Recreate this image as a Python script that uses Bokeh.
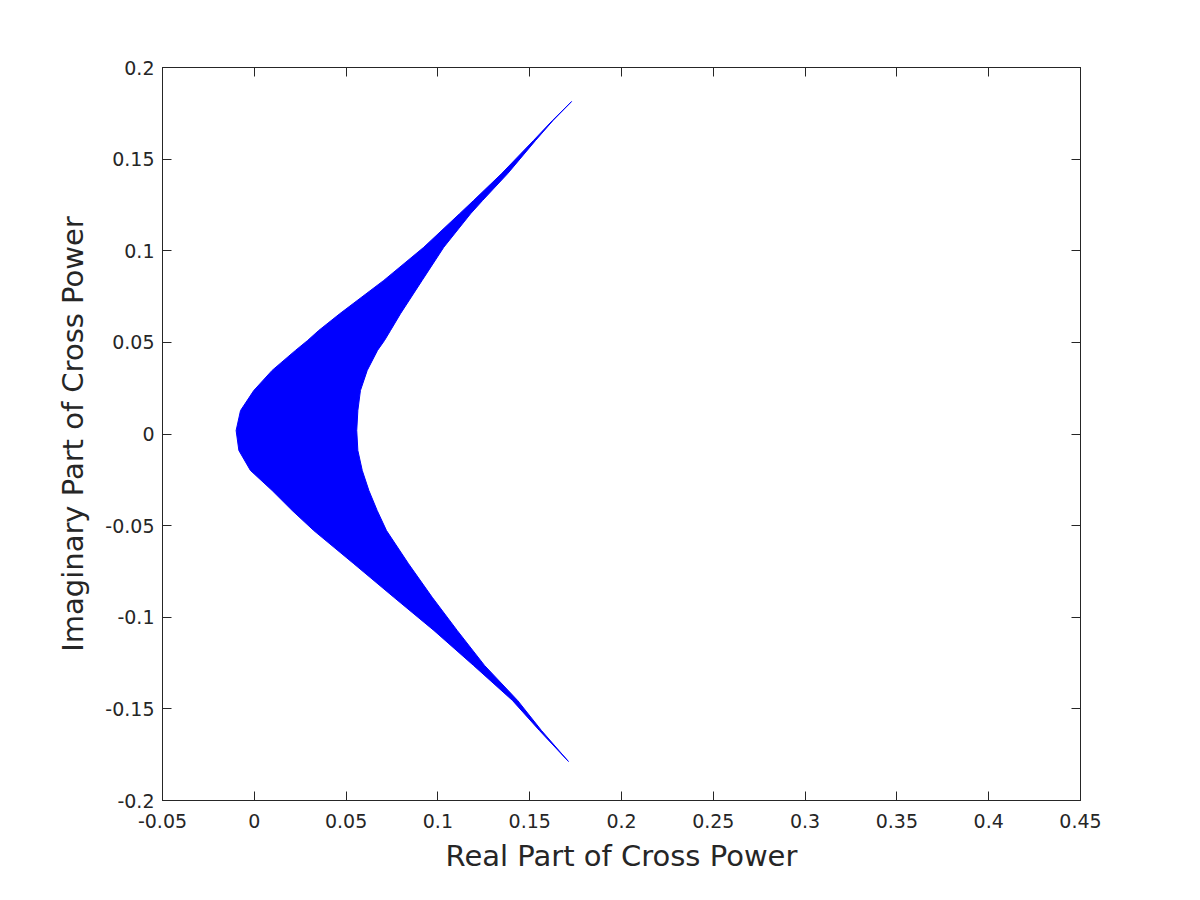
from bokeh.plotting import figure
from bokeh.models import Range1d, LinearAxis, FixedTicker
from bokeh.embed import file_html
from bokeh.resources import INLINE

# Band of cross-power values: for each imaginary level, the outer (left) and inner (right) real edge
imag_part = [0.1814, 0.1711, 0.1602, 0.1420, 0.1274, 0.1202, 0.1019, 0.0838, 0.0656, 0.0565,
             0.0510, 0.0456, 0.0347, 0.0237, 0.0128, 0.0019, -0.0090, -0.0199, -0.0308, -0.0417,
             -0.0527, -0.0708, -0.0891, -0.1072, -0.1263, -0.1454, -0.1618, -0.1787]
real_outer = [0.1728, 0.1624, 0.1521, 0.1346, 0.1194, 0.1118, 0.0923, 0.0705, 0.0465, 0.0351,
              0.0290, 0.0224, 0.0097, -0.0003, -0.0075, -0.0099, -0.0084, -0.0021, 0.0097, 0.0206,
              0.0324, 0.0542, 0.0760, 0.0978, 0.1194, 0.1406, 0.1553, 0.1711]
real_inner = [0.1728, 0.1627, 0.1532, 0.1379, 0.1243, 0.1178, 0.1032, 0.0914, 0.0796, 0.0742,
              0.0709, 0.0671, 0.0615, 0.0578, 0.0564, 0.0558, 0.0564, 0.0588, 0.0624, 0.0669,
              0.0720, 0.0840, 0.0969, 0.1105, 0.1254, 0.1434, 0.1564, 0.1711]

x_ticks = [-0.05, 0, 0.05, 0.1, 0.15, 0.2, 0.25, 0.3, 0.35, 0.4, 0.45]
x_tick_labels = ["-0.05", "0", "0.05", "0.1", "0.15", "0.2", "0.25", "0.3", "0.35", "0.4", "0.45"]
y_ticks = [-0.2, -0.15, -0.1, -0.05, 0, 0.05, 0.1, 0.15, 0.2]
y_tick_labels = ["-0.2", "-0.15", "-0.1", "-0.05", "0", "0.05", "0.1", "0.15", "0.2"]

AX = "#262626"
FONT = "DejaVu Sans"

p = figure(width=1200, height=900, output_backend="svg", toolbar_location=None,
           x_range=Range1d(-0.05, 0.45), y_range=Range1d(-0.2, 0.2),
           min_border_left=162, min_border_right=120, min_border_top=67, min_border_bottom=100,
           background_fill_color="white", border_fill_color="white")
p.grid.visible = False
p.outline_line_color = AX
p.outline_line_width = 1

p.harea(y=imag_part, x1=real_outer, x2=real_inner, fill_color="#0000FF", fill_alpha=1)
p.line(real_outer, imag_part, line_color="#0000FF", line_width=1)
p.line(real_inner, imag_part, line_color="#0000FF", line_width=1)

def style(ax, ticks, labels, show_labels):
    ax.ticker = FixedTicker(ticks=ticks)
    ax.major_label_overrides = {t: l for t, l in zip(ticks, labels)}
    ax.major_tick_in = 9
    ax.major_tick_out = 0
    ax.minor_tick_in = 0
    ax.minor_tick_out = 0
    ax.axis_line_color = AX
    ax.major_tick_line_color = AX
    ax.major_label_text_font = FONT
    ax.major_label_text_font_size = "19px"
    ax.major_label_text_color = AX if show_labels else None
    ax.axis_label_text_font = FONT
    ax.axis_label_text_font_size = "29px"
    ax.axis_label_text_font_style = "normal"
    ax.axis_label_text_color = AX

xa = p.xaxis[0]
ya = p.yaxis[0]
style(xa, x_ticks, x_tick_labels, True)
style(ya, y_ticks, y_tick_labels, True)
xa.axis_label = "Real Part of Cross Power"
ya.axis_label = "Imaginary Part of Cross Power"
xa.major_label_standoff = 13
ya.major_label_standoff = 8
xa.axis_label_standoff = 8
ya.axis_label_standoff = 12

top = LinearAxis()
right = LinearAxis()
style(top, x_ticks, x_tick_labels, False)
style(right, y_ticks, y_tick_labels, False)
top.major_label_text_font_size = "0px"
right.major_label_text_font_size = "0px"
p.add_layout(top, "above")
p.add_layout(right, "right")

open("out.html", "w").write(file_html(p, INLINE))
